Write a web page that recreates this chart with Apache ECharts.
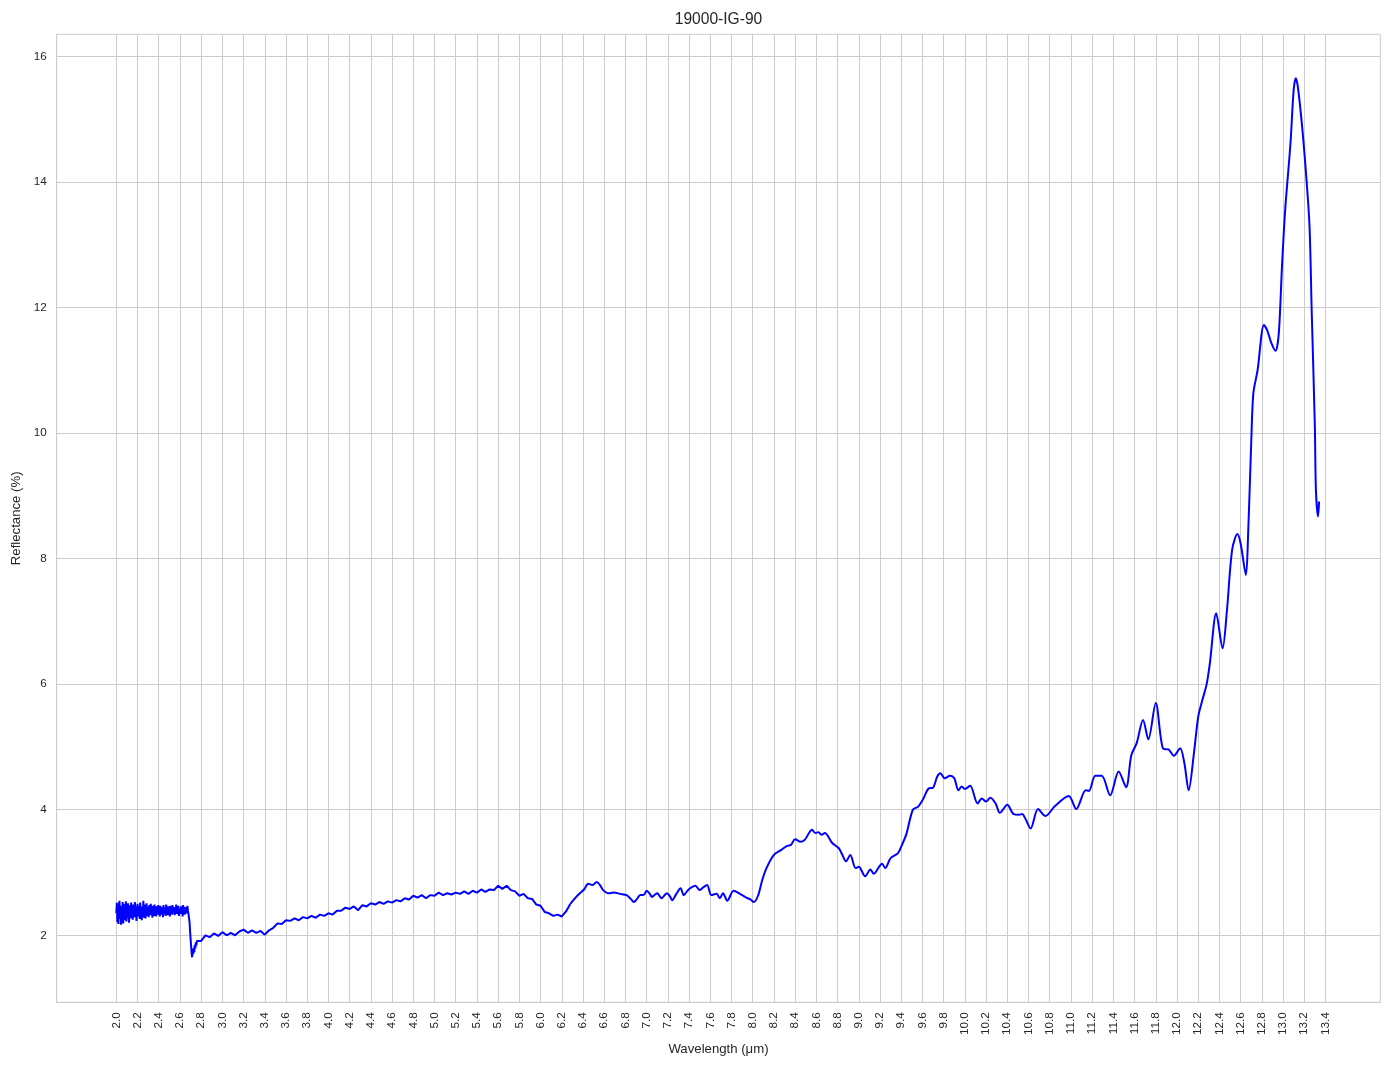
<!DOCTYPE html>
<html>
<head>
<meta charset="utf-8">
<script src="https://cdn.jsdelivr.net/npm/echarts@6/dist/echarts.min.js"></script>
<style>html,body{margin:0;padding:0;background:#fff;}#c{width:1394px;height:1069px;}</style>
</head>
<body>
<div id="c"></div>
<script>
// ---- data ----
const chartTitle = '19000-IG-90';
const xName = 'Wavelength (μm)';
const yName = 'Reflectance (%)';

const xTicks = [2.0,2.2,2.4,2.6,2.8,3.0,3.2,3.4,3.6,3.8,4.0,4.2,4.4,4.6,4.8,5.0,5.2,5.4,5.6,5.8,
  6.0,6.2,6.4,6.6,6.8,7.0,7.2,7.4,7.6,7.8,8.0,8.2,8.4,8.6,8.8,9.0,9.2,9.4,9.6,9.8,
  10.0,10.2,10.4,10.6,10.8,11.0,11.2,11.4,11.6,11.8,12.0,12.2,12.4,12.6,12.8,13.0,13.2,13.4];
const yTicks = [2,4,6,8,10,12,14,16];

// noisy segment 2.000 - 2.680 um
const wlNoise = [2.000,2.005,2.010,2.015,2.020,2.025,2.030,2.035,2.040,2.045,
  2.050,2.055,2.060,2.065,2.070,2.075,2.080,2.085,2.090,2.095,
  2.100,2.105,2.110,2.115,2.120,2.125,2.130,2.135,2.140,2.145,
  2.150,2.155,2.160,2.165,2.170,2.175,2.180,2.185,2.190,2.195,
  2.200,2.205,2.210,2.215,2.220,2.225,2.230,2.235,2.240,2.245,
  2.250,2.255,2.260,2.265,2.270,2.275,2.280,2.285,2.290,2.295,
  2.300,2.305,2.310,2.315,2.320,2.325,2.330,2.335,2.340,2.345,
  2.350,2.355,2.360,2.365,2.370,2.375,2.380,2.385,2.390,2.395,
  2.400,2.405,2.410,2.415,2.420,2.425,2.430,2.435,2.440,2.445,
  2.450,2.455,2.460,2.465,2.470,2.475,2.480,2.485,2.490,2.495,
  2.500,2.505,2.510,2.515,2.520,2.525,2.530,2.535,2.540,2.545,
  2.550,2.555,2.560,2.565,2.570,2.575,2.580,2.585,2.590,2.595,
  2.600,2.605,2.610,2.615,2.620,2.625,2.630,2.635,2.640,2.645,
  2.650,2.655,2.660,2.665,2.670,2.675,2.680];
const rNoise = [2.35,2.52,2.21,2.44,2.18,2.49,2.55,2.26,2.40,2.17,
  2.47,2.30,2.53,2.19,2.42,2.50,2.24,2.36,2.54,2.22,
  2.45,2.28,2.51,2.33,2.20,2.48,2.39,2.27,2.52,2.31,
  2.44,2.25,2.49,2.37,2.29,2.53,2.34,2.46,2.23,2.41,
  2.50,2.30,2.38,2.47,2.26,2.52,2.35,2.43,2.24,2.46,
  2.33,2.55,2.28,2.42,2.49,2.27,2.39,2.51,2.31,2.45,
  2.36,2.29,2.48,2.40,2.32,2.50,2.34,2.44,2.28,2.47,
  2.38,2.31,2.49,2.35,2.43,2.30,2.46,2.39,2.33,2.48,
  2.36,2.42,2.30,2.47,2.38,2.33,2.45,2.40,2.29,2.48,
  2.35,2.44,2.37,2.31,2.49,2.38,2.42,2.32,2.46,2.36,
  2.41,2.30,2.47,2.37,2.43,2.33,2.48,2.39,2.35,2.45,
  2.32,2.44,2.38,2.49,2.34,2.42,2.36,2.47,2.31,2.43,
  2.39,2.34,2.46,2.37,2.42,2.30,2.48,2.36,2.44,2.33,
  2.45,2.38,2.42,2.35,2.47,2.40,2.37];

// sharp drop near 2.7 um
const wlDrop = [2.69,2.70,2.71,2.715,2.72,2.725,2.73,2.735,2.74,2.745,2.75,2.755];
const rDrop  = [2.22,1.95,1.72,1.65,1.78,1.70,1.80,1.73,1.85,1.79,1.89,1.84];

// slow rise 2.76 - 6.24 um
const wlRise = [2.76,2.80,2.84,2.88,2.92,2.96,3.00,3.04,3.08,3.12,
  3.16,3.20,3.24,3.28,3.32,3.36,3.40,3.44,3.48,3.52,
  3.56,3.60,3.64,3.68,3.72,3.76,3.80,3.84,3.88,3.92,
  3.96,4.00,4.04,4.08,4.12,4.16,4.20,4.24,4.28,4.32,
  4.36,4.40,4.44,4.48,4.52,4.56,4.60,4.64,4.68,4.72,
  4.76,4.80,4.84,4.88,4.92,4.96,5.00,5.04,5.08,5.12,
  5.16,5.20,5.24,5.28,5.32,5.36,5.40,5.44,5.48,5.52,
  5.56,5.60,5.64,5.68,5.72,5.76,5.80,5.84,5.88,5.92,
  5.96,6.00,6.04,6.08,6.12,6.16,6.20,6.24];
const rRise = [1.91,1.91,2.00,1.97,2.03,1.99,2.05,2.00,2.04,2.00,
  2.06,2.09,2.04,2.08,2.04,2.07,2.01,2.08,2.12,2.19,
  2.18,2.24,2.23,2.27,2.24,2.29,2.27,2.31,2.28,2.33,
  2.31,2.35,2.33,2.39,2.39,2.44,2.42,2.46,2.40,2.48,
  2.46,2.51,2.49,2.53,2.50,2.54,2.52,2.56,2.54,2.59,
  2.57,2.63,2.60,2.64,2.59,2.64,2.63,2.68,2.64,2.67,
  2.65,2.68,2.66,2.70,2.66,2.71,2.68,2.73,2.69,2.73,
  2.72,2.79,2.74,2.79,2.72,2.70,2.63,2.66,2.59,2.58,
  2.49,2.47,2.37,2.35,2.31,2.33,2.30,2.38];

// smooth band region 6.28 - 13.34 um
const wlBands = [6.28,6.33,6.37,6.41,6.45,6.49,6.53,6.56,6.59,6.64,
  6.69,6.75,6.81,6.85,6.88,6.91,6.94,6.97,7.00,7.03,
  7.05,7.08,7.10,7.12,7.14,7.17,7.19,7.22,7.24,7.28,
  7.32,7.35,7.38,7.41,7.46,7.50,7.53,7.57,7.61,7.66,
  7.69,7.72,7.76,7.82,7.88,7.94,7.98,8.01,8.05,8.09,
  8.13,8.20,8.27,8.32,8.36,8.40,8.45,8.49,8.56,8.59,
  8.62,8.65,8.68,8.75,8.81,8.84,8.88,8.92,8.97,9.00,
  9.06,9.11,9.14,9.22,9.25,9.30,9.37,9.41,9.45,9.51,
  9.56,9.61,9.66,9.70,9.74,9.77,9.81,9.86,9.90,9.94,
  9.97,10.00,10.05,10.12,10.16,10.20,10.24,10.29,10.33,10.40,
  10.46,10.51,10.54,10.57,10.62,10.69,10.76,10.85,10.98,11.05,
  11.14,11.17,11.23,11.29,11.37,11.45,11.52,11.57,11.62,11.68,
  11.73,11.80,11.87,11.92,11.97,12.03,12.07,12.11,12.16,12.20,
  12.24,12.28,12.31,12.37,12.43,12.47,12.52,12.57,12.60,12.65,
  12.67,12.70,12.72,12.76,12.82,12.85,12.89,12.93,12.96,12.99,
  13.02,13.07,13.10,13.12,13.14,13.18,13.22,13.25,13.27,13.30,
  13.31,13.33,13.34];
const rBands = [2.50,2.60,2.67,2.73,2.82,2.80,2.85,2.80,2.72,2.67,
  2.68,2.66,2.64,2.58,2.53,2.58,2.64,2.64,2.71,2.66,
  2.61,2.65,2.67,2.63,2.59,2.64,2.67,2.62,2.56,2.66,
  2.75,2.64,2.70,2.75,2.79,2.72,2.76,2.80,2.64,2.66,
  2.59,2.67,2.55,2.71,2.66,2.60,2.57,2.53,2.63,2.88,
  3.07,3.28,3.36,3.42,3.44,3.53,3.49,3.52,3.68,3.63,
  3.64,3.60,3.63,3.47,3.39,3.30,3.18,3.28,3.07,3.09,
  2.94,3.05,2.98,3.14,3.07,3.23,3.31,3.45,3.62,4.00,
  4.05,4.18,4.34,4.35,4.53,4.58,4.50,4.54,4.50,4.31,
  4.37,4.33,4.38,4.10,4.18,4.13,4.19,4.10,3.95,4.08,
  3.93,3.92,3.93,3.86,3.70,4.01,3.90,4.06,4.22,4.01,
  4.31,4.30,4.54,4.54,4.23,4.61,4.36,4.87,5.06,5.43,
  5.12,5.70,4.97,4.96,4.86,4.98,4.74,4.31,4.90,5.48,
  5.75,6.00,6.33,7.13,6.57,7.15,8.14,8.39,8.24,7.74,
  8.35,9.84,10.63,11.00,11.72,11.64,11.43,11.31,11.59,12.65,
  13.55,14.61,15.46,15.65,15.51,14.88,14.06,13.28,11.96,10.10,
  9.09,8.67,8.91];

// ---- build ----
const noisyWl = wlNoise.concat(wlDrop, wlRise, [wlBands[0]]);
const noisyR = rNoise.concat(rDrop, rRise, [rBands[0]]);
const noisyData = noisyWl.map((w, i) => [w, noisyR[i]]);
const bandData = wlBands.map((w, i) => [w, rBands[i]]);

const FONT = "'Liberation Sans', Arial, sans-serif";
const TXT = '#262626';
const GRID = '#cccccc';
const LINE = {color: '#0000ff', width: 2};

const chart = echarts.init(document.getElementById('c'), null, {renderer: 'canvas'});
chart.setOption({
  animation: false,
  backgroundColor: '#ffffff',
  graphic: [{
    type: 'text', x: 718.5, y: 20,
    style: {text: chartTitle, fill: TXT, font: '15.6px ' + FONT, textAlign: 'center', textVerticalAlign: 'middle'}
  }],
  grid: {left: 56.7, right: 13.7, top: 34.3, bottom: 66.7, show: true, borderColor: GRID, borderWidth: 1, backgroundColor: 'transparent'},
  xAxis: {
    type: 'value', min: 1.438, max: 13.917,
    name: xName, nameLocation: 'middle', nameGap: 38,
    nameTextStyle: {color: TXT, fontSize: 13.2, fontFamily: FONT},
    axisLine: {show: true, lineStyle: {color: GRID, width: 1}},
    axisTick: {show: false, customValues: xTicks},
    axisLabel: {customValues: xTicks, rotate: 90, margin: 10, color: TXT, fontSize: 11.7, fontFamily: FONT,
      formatter: v => Number(v).toFixed(1)},
    splitLine: {show: true, lineStyle: {color: GRID, width: 1}}
  },
  yAxis: {
    type: 'value', min: 0.933, max: 16.35,
    name: yName, nameLocation: 'middle', nameGap: 32, nameRotate: 90,
    nameTextStyle: {color: TXT, fontSize: 13.2, fontFamily: FONT},
    axisLine: {show: true, lineStyle: {color: GRID, width: 1}},
    axisTick: {show: false, customValues: yTicks},
    axisLabel: {customValues: yTicks, margin: 10, color: TXT, fontSize: 11.7, fontFamily: FONT,
      formatter: v => String(Math.round(v))},
    splitLine: {show: true, lineStyle: {color: GRID, width: 1}}
  },
  series: [{
    type: 'line', data: noisyData, showSymbol: false, smooth: false,
    sampling: null, lineStyle: LINE
  }, {
    type: 'line', data: bandData, showSymbol: false, smooth: 0.3,
    sampling: null, lineStyle: LINE
  }]
});
</script>
</body>
</html>
